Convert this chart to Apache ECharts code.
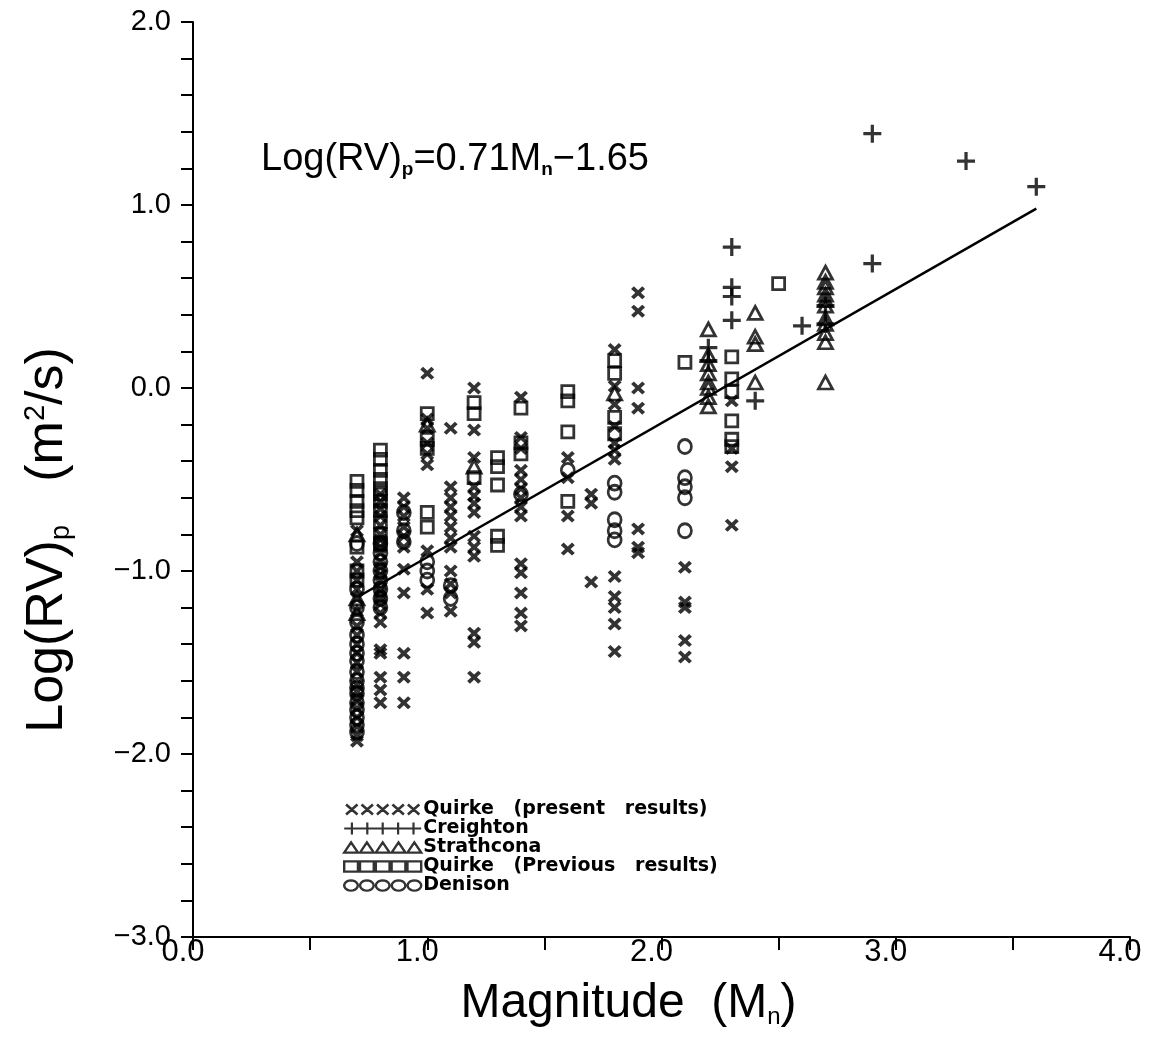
<!DOCTYPE html>
<html>
<head>
<meta charset="utf-8">
<script src="https://cdn.jsdelivr.net/npm/echarts@6/dist/echarts.min.js"></script>
<style>
html,body{margin:0;padding:0;background:#fff;}
#chart{width:1161px;height:1041px;}
</style>
</head>
<body>
<div id="chart"></div>
<script>
// ---------------- DATA (magnitude, [log(RV)p values]) ----------------
const quirkePresent = [
  [0.7, [-0.78, -0.95, -1.00, -1.05, -1.10, -1.15, -1.22, -1.30, -1.35, -1.40, -1.45, -1.50, -1.55, -1.62, -1.66, -1.70, -1.75, -1.80, -1.85, -1.90, -1.93]],
  [0.8, [-0.58, -0.62, -0.66, -0.70, -0.75, -0.80, -0.83, -0.87, -0.90, -0.95, -0.98, -1.02, -1.05, -1.10, -1.12, -1.15, -1.18, -1.23, -1.28, -1.43, -1.45, -1.58, -1.65, -1.72]],
  [0.9, [-0.60, -0.65, -0.70, -0.76, -0.81, -0.87, -0.99, -1.12, -1.45, -1.58, -1.72]],
  [1.0, [0.08, -0.17, -0.22, -0.30, -0.36, -0.42, -0.89, -1.10, -1.23]],
  [1.1, [-0.22, -0.54, -0.60, -0.65, -0.70, -0.76, -0.82, -0.87, -1.00, -1.07, -1.12, -1.22]],
  [1.2, [0.00, -0.23, -0.38, -0.54, -0.59, -0.63, -0.68, -0.81, -0.87, -0.92, -1.34, -1.39, -1.58]],
  [1.4, [-0.05, -0.27, -0.33, -0.45, -0.50, -0.55, -0.60, -0.65, -0.70, -0.96, -1.01, -1.12, -1.23, -1.30]],
  [1.6, [-0.38, -0.49, -0.70, -0.88]],
  [1.7, [-0.58, -0.63, -1.06]],
  [1.8, [0.21, 0.01, -0.09, -0.21, -0.30, -0.34, -0.39, -1.03, -1.14, -1.20, -1.29, -1.44]],
  [1.9, [0.52, 0.42, 0.00, -0.11, -0.77, -0.87, -0.90]],
  [2.1, [-0.98, -1.17, -1.20, -1.38, -1.47]],
  [2.3, [-0.07, -0.33, -0.43, -0.75]]
];
const creighton = [
  [2.2, [0.22, 0.15]],
  [2.3, [0.77, 0.55, 0.50, 0.37]],
  [2.4, [-0.07]],
  [2.6, [0.34]],
  [2.7, [0.45, 0.35]],
  [2.9, [1.39, 0.68]],
  [3.3, [1.24]],
  [3.6, [1.10]]
];
const strathcona = [
  [0.7, [-0.80, -1.15, -1.23]],
  [1.0, [-0.20]],
  [1.2, [-0.43]],
  [1.8, [-0.03]],
  [2.2, [0.32, 0.18, 0.13, 0.08, 0.03, 0.00, -0.05, -0.10]],
  [2.4, [0.41, 0.28, 0.24, 0.03]],
  [2.7, [0.63, 0.58, 0.55, 0.51, 0.48, 0.45, 0.38, 0.35, 0.30, 0.25, 0.03]]
];
const quirkePrevious = [
  [0.7, [-0.51, -0.56, -0.62, -0.67, -0.71, -0.87, -1.00, -1.05]],
  [0.8, [-0.34, -0.39, -0.45, -0.50, -0.55, -0.58, -0.62, -0.67, -0.73, -0.80, -0.85]],
  [1.0, [-0.14, -0.28, -0.33, -0.68, -0.76]],
  [1.2, [-0.08, -0.14, -0.49]],
  [1.3, [-0.38, -0.43, -0.53, -0.81, -0.86]],
  [1.4, [-0.11, -0.30, -0.36]],
  [1.6, [-0.02, -0.07, -0.24, -0.62]],
  [1.8, [0.15, 0.08, -0.16, -0.25]],
  [2.1, [0.14]],
  [2.3, [0.17, 0.05, -0.02, -0.18, -0.28, -0.32]],
  [2.5, [0.57]]
];
const denison = [
  [0.7, [-0.85, -1.10, -1.20, -1.28, -1.35, -1.40, -1.45, -1.49, -1.55, -1.60, -1.64, -1.67, -1.72, -1.76, -1.80, -1.84, -1.88]],
  [0.8, [-0.85, -0.90, -0.95, -1.00, -1.05, -1.10, -1.15, -1.20]],
  [0.9, [-0.68, -0.78, -0.84]],
  [1.0, [-0.95, -1.00, -1.05]],
  [1.1, [-1.08, -1.15]],
  [1.4, [-0.58]],
  [1.6, [-0.45]],
  [1.8, [-0.52, -0.57, -0.72, -0.78, -0.83]],
  [2.1, [-0.32, -0.49, -0.54, -0.60, -0.78]]
];
// fitted line as drawn: Log(RV)p = 0.71 Mn - 1.65
const fitLine = [[0.72, -1.13], [3.6, 0.98]];
const xTicks = [0, 1, 2, 3, 4];
const yTicks = [-3, -2, -1, 0, 1, 2];
const seriesNames = ['Quirke   (present   results)', 'Creighton', 'Strathcona', 'Quirke   (Previous   results)', 'Denison'];

// ---------------- helpers ----------------
function flatten(groups) {
  const out = [];
  groups.forEach(([m, vals]) => vals.forEach(v => out.push([m, v])));
  return out;
}
const f = n => n.toFixed(2);
function seg(x1, y1, x2, y2, w) {
  const dx = x2 - x1, dy = y2 - y1, L = Math.hypot(dx, dy);
  const nx = -dy / L * w / 2, ny = dx / L * w / 2;
  return 'M' + f(x1 + nx) + ',' + f(y1 + ny) + 'L' + f(x2 + nx) + ',' + f(y2 + ny) +
         'L' + f(x2 - nx) + ',' + f(y2 - ny) + 'L' + f(x1 - nx) + ',' + f(y1 - ny) + 'Z';
}
const W = 15.4, N = 5;
function legendX() {
  let p = '';
  for (let i = 0; i < N; i++) { const x = i * W; p += seg(x + 2, 1, x + 13.4, 11, 2.6) + seg(x + 2, 11, x + 13.4, 1, 2.6); }
  return 'path://' + p;
}
function legendPlus() {
  let p = seg(0, 6, W * N, 6, 2.2);
  for (let i = 0; i < N; i++) { const x = i * W + 7.7; p += seg(x, 0, x, 12, 2.2); }
  return 'path://' + p;
}
function legendTri() {
  let p = '';
  for (let i = 0; i < N; i++) { const x = i * W; p += 'M' + f(x + 1) + ',11L' + f(x + 7.7) + ',1L' + f(x + 14.4) + ',11Z'; }
  return 'path://' + p;
}
function legendRect() {
  let p = '';
  for (let i = 0; i < N; i++) { const x = i * W; p += 'M' + f(x + 1) + ',1L' + f(x + 14.4) + ',1L' + f(x + 14.4) + ',11L' + f(x + 1) + ',11Z'; }
  return 'path://' + p;
}
function legendCircle() {
  let p = '';
  for (let i = 0; i < N; i++) {
    const cx = i * W + 7.7, cy = 6;
    for (let k = 0; k <= 20; k++) {
      const a = k / 20 * Math.PI * 2;
      p += (k === 0 ? 'M' : 'L') + f(cx + 6.6 * Math.cos(a)) + ',' + f(cy + 5 * Math.sin(a));
    }
    p += 'Z';
  }
  return 'path://' + p;
}
const xSymbol = 'path://M0,2L2,0L5,3L8,0L10,2L7,5L10,8L8,10L5,7L2,10L0,8L3,5Z';
const plusSymbol = 'path://M4.1,0H5.9V4.1H10V5.9H5.9V10H4.1V5.9H0V4.1H4.1Z';
const hollow = { color: 'rgba(0,0,0,0)', borderColor: '#000', borderWidth: 2.8 };
const mainFont = 'Liberation Sans, Arial, sans-serif';
const narrowFont = 'Liberation Sans Narrow, Liberation Sans, Arial, sans-serif';

const chart = echarts.init(document.getElementById('chart'), null, { renderer: 'canvas' });
const option = {
  backgroundColor: '#fff',
  animation: false,
  title: {
    text: 'Log(RV){s|p}=0.71M{s|n}−1.65',
    left: 256, top: 136,
    textStyle: {
      fontFamily: mainFont, fontSize: 38, fontWeight: 'normal', color: '#000',
      rich: { s: { fontFamily: mainFont, fontSize: 19, fontWeight: 'bold', verticalAlign: 'bottom', padding: [17, 0, 0, 0], color: '#000' } }
    }
  },
  grid: { left: 193, right: 31, top: 22, bottom: 104, containLabel: false },
  legend: {
    orient: 'vertical',
    left: 338, top: 795,
    itemWidth: 77, itemHeight: 12, itemGap: 0,
    selectedMode: false,
    textStyle: { fontFamily: 'DejaVu Sans, sans-serif', fontWeight: 'bold', fontSize: 19, lineHeight: 19, color: '#000', padding: [0, 0, 0, -3] },
    data: [
      { name: seriesNames[0], icon: legendX(), itemStyle: { color: '#000', borderWidth: 0 } },
      { name: seriesNames[1], icon: legendPlus(), itemStyle: { color: '#000', borderWidth: 0 } },
      { name: seriesNames[2], icon: legendTri(), itemStyle: { color: 'rgba(0,0,0,0)', borderColor: '#000', borderWidth: 2.4 } },
      { name: seriesNames[3], icon: legendRect(), itemStyle: { color: 'rgba(0,0,0,0)', borderColor: '#000', borderWidth: 2.4 } },
      { name: seriesNames[4], icon: legendCircle(), itemStyle: { color: 'rgba(0,0,0,0)', borderColor: '#000', borderWidth: 2.4 } }
    ]
  },
  xAxis: {
    type: 'value', min: 0, max: 4, interval: 1,
    name: 'Magnitude  (M{s|n})', nameLocation: 'middle', nameGap: 42,
    nameTextStyle: {
      fontFamily: narrowFont, fontSize: 48, color: '#000', padding: [0, 66, 0, 0],
      rich: { s: { fontFamily: narrowFont, fontSize: 24, verticalAlign: 'bottom', padding: [26, 0, 0, 0], color: '#000' } }
    },
    axisLine: { show: true, onZero: false, lineStyle: { color: '#000', width: 2 } },
    axisTick: { show: true, inside: false, length: 13, lineStyle: { color: '#000', width: 2 } },
    minorTick: { show: true, splitNumber: 2, length: 13, lineStyle: { color: '#000', width: 2 } },
    splitLine: { show: false },
    axisLabel: {
      fontFamily: narrowFont, fontSize: 31, color: '#000', margin: 0,
      padding: [0, 20, 0, 0],
      formatter: v => xTicks.includes(v) ? v.toFixed(1) : ''
    }
  },
  yAxis: {
    type: 'value', min: -3, max: 2, interval: 1,
    axisLine: { show: true, onZero: false, lineStyle: { color: '#000', width: 2 } },
    axisTick: { show: true, inside: false, length: 12, lineStyle: { color: '#000', width: 2 } },
    minorTick: { show: true, splitNumber: 5, length: 12, lineStyle: { color: '#000', width: 2 } },
    splitLine: { show: false },
    axisLabel: {
      fontFamily: mainFont, fontSize: 29, color: '#000', margin: 22,
      formatter: v => yTicks.includes(v) ? (v < 0 ? '−' : '') + Math.abs(v).toFixed(1) : ''
    }
  },
  graphic: [{
    type: 'text',
    x: 48, y: 540,
    rotation: Math.PI / 2,
    style: {
      text: 'Log(RV){s|p}   (m{p|2}/s)',
      fontFamily: mainFont, fontSize: 52, fill: '#000',
      align: 'center', verticalAlign: 'middle',
      rich: {
        s: { fontFamily: mainFont, fontSize: 27, fill: '#000', verticalAlign: 'bottom', padding: [27, 0, 0, 0] },
        p: { fontFamily: mainFont, fontSize: 29, fill: '#000', verticalAlign: 'top', padding: [0, 0, 23, 0] }
      }
    }
  }],
  series: [
    { name: seriesNames[0], type: 'scatter', data: flatten(quirkePresent), symbol: xSymbol, symbolSize: [14, 13], itemStyle: { color: '#000' }, z: 3 },
    { name: seriesNames[1], type: 'scatter', data: flatten(creighton), symbol: plusSymbol, symbolSize: 18, itemStyle: { color: '#000' }, z: 3 },
    { name: seriesNames[2], type: 'scatter', data: flatten(strathcona), symbol: 'triangle', symbolSize: [14, 13], itemStyle: hollow, z: 3 },
    { name: seriesNames[3], type: 'scatter', data: flatten(quirkePrevious), symbol: 'rect', symbolSize: [12, 12], itemStyle: hollow, z: 3 },
    { name: seriesNames[4], type: 'scatter', data: flatten(denison), symbol: 'circle', symbolSize: [13, 14], itemStyle: hollow, z: 3 },
    { name: 'fit', type: 'line', data: fitLine, symbol: 'none', lineStyle: { color: '#000', width: 2.5 }, z: 2, silent: true }
  ]
};
chart.setOption(option);
</script>
</body>
</html>
